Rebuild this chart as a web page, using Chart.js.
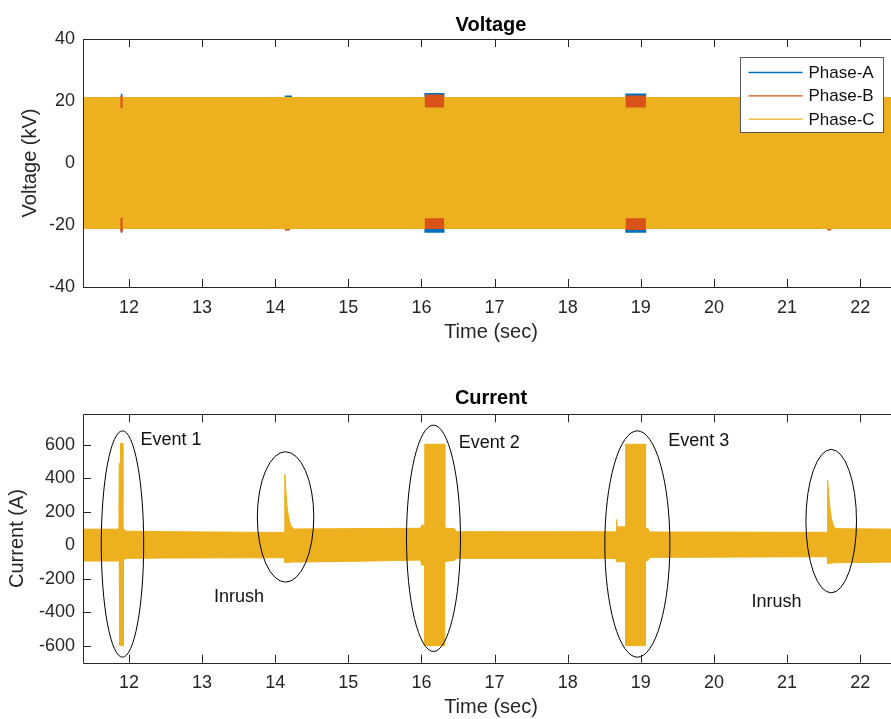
<!DOCTYPE html>
<html>
<head>
<meta charset="utf-8">
<script src="https://cdn.jsdelivr.net/npm/chart.js@4.4.1/dist/chart.umd.min.js"></script>
<style>
  html, body { margin: 0; padding: 0; background: #fff; overflow: hidden; width: 891px; height: 719px; }
  #voltage { position: absolute; left: 0; top: 0; }
  #current { position: absolute; left: 0; top: 357px; }
</style>
</head>
<body>
<canvas id="voltage" width="900" height="357"></canvas>
<canvas id="current" width="900" height="372"></canvas>
<script>
// axis ticks
const timeTicks = [12, 13, 14, 15, 16, 17, 18, 19, 20, 21, 22];
const voltTicks = [-40, -20, 0, 20, 40];
const currTicks = [-600, -400, -200, 0, 200, 400, 600];

// voltage envelopes (kV)
const phaseATime  = [11.37, 11.888, 11.888, 11.910, 11.910, 14.13, 14.13, 14.23, 14.23, 16.04, 16.04, 16.315, 16.315, 18.787, 18.787, 19.073, 19.073, 22.53];
const phaseAUpper = [21.3, 21.3, 22.3, 22.3, 21.3, 21.3, 21.8, 21.8, 21.3, 21.3, 22.6, 22.6, 21.3, 21.3, 22.4, 22.4, 21.3, 21.3];
const phaseALower = [-21.3, -21.3, -22.5, -22.5, -21.3, -21.3, -21.3, -21.3, -21.3, -21.3, -22.5, -22.5, -21.3, -21.3, -22.5, -22.5, -21.3, -21.3];

const phaseBTime  = [11.37, 11.880, 11.880, 11.916, 11.916, 14.13, 14.13, 14.20, 14.20, 16.045, 16.045, 16.309, 16.309, 18.792, 18.792, 19.068, 19.068, 21.55, 21.55, 21.60, 21.60, 22.53];
const phaseBUpper = [21.3, 21.3, 21.5, 21.5, 21.3, 21.3, 21.3, 21.3, 21.3, 21.3, 22.1, 22.1, 21.3, 21.3, 21.8, 21.8, 21.3, 21.3, 21.3, 21.3, 21.3, 21.3];
const phaseBLower = [-21.3, -21.3, -22.1, -22.1, -21.3, -21.3, -21.8, -21.8, -21.3, -21.3, -21.3, -21.3, -21.3, -21.3, -21.6, -21.6, -21.3, -21.3, -21.8, -21.8, -21.3, -21.3];

const phaseCTime  = [11.37, 11.883, 11.883, 11.913, 11.913, 16.045, 16.045, 16.309, 16.309, 18.792, 18.792, 19.068, 19.068, 22.53];
const phaseCUpper = [21.3, 21.3, 17.7, 17.7, 21.3, 21.3, 17.9, 17.9, 21.3, 21.3, 17.9, 17.9, 21.3, 21.3];
const phaseCLower = [-21.3, -21.3, -17.7, -17.7, -21.3, -21.3, -17.8, -17.8, -21.3, -21.3, -17.8, -17.8, -21.3, -21.3];

// current envelope (A)
const currTime  = [11.37, 11.862, 11.866, 11.874, 11.884, 11.884, 11.916, 11.916, 11.925, 11.925, 11.96, 12.5, 14.128, 14.131, 14.145, 14.160, 14.175, 14.20, 14.222, 14.26, 15.0, 15.99, 16.0, 16.045, 16.045, 16.318, 16.318, 16.45, 16.48, 18.66, 18.668, 18.675, 18.792, 18.792, 19.064, 19.064, 19.10, 19.12, 21.55, 21.554, 21.585, 21.605, 21.63, 21.66, 22.53];
const currUpper = [97, 97, 490, 490, 490, 610, 610, 110, 100, 100, 85, 82, 77, 426, 330, 240, 190, 135, 111, 98, 100, 102, 121, 121, 605, 605, 103, 100, 82, 81, 155, 111, 111, 605, 605, 103, 100, 80, 78, 390, 230, 160, 121, 100, 97];
const currLower = [-94, -94, -95, -600, -600, -600, -600, -600, -600, -85, -78, -76, -74, -102, -102, -102, -102, -102, -100, -100, -96, -88, -118, -118, -600, -600, -96, -90, -78, -78, -98, -98, -98, -600, -600, -95, -90, -72, -68, -108, -108, -106, -105, -104, -100];

// annotations on the current plot (data units)
const ringTime   = [11.911, 14.141, 16.164, 18.952, 21.603];
const ringAmp    = [8, 170, 42, 8, 145];
const ringHalfT  = [0.290, 0.386, 0.369, 0.445, 0.346];
const ringHalfA  = [677, 390, 677, 677, 429];
const noteText = ['Event 1', 'Inrush', 'Event 2', 'Event 3', 'Inrush'];
const noteTime = [12.156, 13.163, 16.510, 19.373, 20.514];
const noteAmp  = [630, -312, 612, 624, -337];

const BLUE = '#0072BD', ORANGE = '#D95319', YELLOW = '#EDB120', AXIS = '#262626';

Chart.defaults.font.family = '"Liberation Sans", Arial, sans-serif';
Chart.defaults.color = AXIS;

function band(label, time, upper, lower, color, order, edge) {
  return [
    { label: label, legendLabel: label, data: time.map((t, i) => ({x: t, y: upper[i]})),
      borderColor: color, backgroundColor: color, borderWidth: edge, pointRadius: 0, fill: '+1', order: order },
    { label: label + ' min', data: time.map((t, i) => ({x: t, y: lower[i]})),
      borderColor: color, backgroundColor: color, borderWidth: edge, pointRadius: 0, fill: false, order: order }
  ];
}

const matlabAxes = {
  id: 'matlabAxes',
  beforeDatasetsDraw(chart) {
    const {ctx, chartArea: a, scales: {x, y}} = chart;
    ctx.save();
    ctx.strokeStyle = AXIS;
    ctx.lineWidth = 1;
    ctx.beginPath();
    x.ticks.forEach(t => {
      const px = Math.round(x.getPixelForValue(t.value)) + 0.5;
      ctx.moveTo(px, a.bottom); ctx.lineTo(px, a.bottom - 8);
      ctx.moveTo(px, a.top); ctx.lineTo(px, a.top + 8);
    });
    y.ticks.forEach(t => {
      const py = Math.round(y.getPixelForValue(t.value)) + 0.5;
      ctx.moveTo(a.left, py); ctx.lineTo(a.left + 8, py);
    });
    ctx.stroke();
    ctx.restore();
  },
  afterDraw(chart, args, opts) {
    const {ctx, chartArea: a, scales: {x, y}} = chart;
    ctx.save();
    ctx.strokeStyle = AXIS;
    ctx.lineWidth = 1;
    const l = Math.round(a.left) + 0.5, t = Math.round(a.top) + 0.5, b = Math.round(a.bottom) + 0.5;
    ctx.beginPath();
    ctx.moveTo(a.right, t); ctx.lineTo(l, t); ctx.lineTo(l, b); ctx.lineTo(a.right, b);
    ctx.stroke();

    if (opts.rings) {
      ctx.strokeStyle = '#000';
      ringTime.forEach((tv, i) => {
        const cx = x.getPixelForValue(tv), cy = y.getPixelForValue(ringAmp[i]);
        const rx = Math.abs(x.getPixelForValue(tv + ringHalfT[i]) - cx);
        const ry = Math.abs(y.getPixelForValue(ringAmp[i] + ringHalfA[i]) - cy);
        ctx.beginPath();
        ctx.ellipse(cx, cy, rx, ry, 0, 0, Math.PI * 2);
        ctx.stroke();
      });
      ctx.fillStyle = '#111';
      ctx.font = '18px "Liberation Sans", Arial, sans-serif';
      ctx.textAlign = 'left';
      ctx.textBaseline = 'middle';
      noteText.forEach((s, i) => {
        ctx.fillText(s, x.getPixelForValue(noteTime[i]), y.getPixelForValue(noteAmp[i]));
      });
    }

    if (opts.legend) {
      const items = chart.data.datasets.filter(d => d.legendLabel);
      const bx = a.right - 158.5, by = a.top + 18.5, bw = 143, bh = 75;
      ctx.fillStyle = '#fff';
      ctx.fillRect(bx, by, bw, bh);
      ctx.strokeStyle = '#555';
      ctx.strokeRect(bx, by, bw, bh);
      ctx.font = '17px "Liberation Sans", Arial, sans-serif';
      ctx.textAlign = 'left';
      ctx.textBaseline = 'middle';
      items.forEach((d, i) => {
        const ry = by + 15 + i * 23.3;
        ctx.strokeStyle = d.borderColor;
        ctx.lineWidth = 1.3;
        ctx.beginPath();
        ctx.moveTo(bx + 8, ry); ctx.lineTo(bx + 62, ry);
        ctx.stroke();
        ctx.fillStyle = '#111';
        ctx.fillText(d.legendLabel, bx + 68, ry + 1);
      });
    }
    ctx.restore();
  }
};

function axesOptions(opt) {
  return {
    responsive: false,
    animation: false,
    layout: { padding: { left: 0, right: 1, top: 0, bottom: opt.bottomPad } },
    plugins: {
      legend: { display: false },
      tooltip: { enabled: false },
      title: { display: true, text: opt.title, fullSize: false, color: '#000',
               font: { size: 20, weight: 'bold' }, padding: opt.titlePad },
      matlabAxes: { legend: opt.legend, rings: opt.rings }
    },
    scales: {
      x: {
        type: 'linear', min: 11.371, max: 22.53,
        afterBuildTicks: s => { s.ticks = timeTicks.map(v => ({ value: v })); },
        afterFit: s => { s.height = 60; },
        grid: { display: false, drawTicks: false },
        border: { display: false },
        ticks: { padding: 10, font: { size: 18 }, color: AXIS, maxRotation: 0, autoSkip: false },
        title: { display: true, text: 'Time (sec)', font: { size: 20 }, color: AXIS, padding: { top: 0, bottom: 3 } }
      },
      y: {
        type: 'linear', min: opt.yMin, max: opt.yMax,
        afterBuildTicks: s => { s.ticks = opt.yTicks.map(v => ({ value: v })); },
        afterFit: s => { s.width = 83; },
        grid: { display: false, drawTicks: false },
        border: { display: false },
        ticks: { padding: 8, font: { size: 18 }, color: AXIS },
        title: { display: true, text: opt.yTitle, font: { size: 20 }, color: AXIS, padding: { top: opt.yTitlePad, bottom: 0 } }
      }
    }
  };
}

new Chart(document.getElementById('voltage'), {
  type: 'line',
  data: {
    datasets: [
      ...band('Phase-A', phaseATime, phaseAUpper, phaseALower, BLUE, 3, 0),
      ...band('Phase-B', phaseBTime, phaseBUpper, phaseBLower, ORANGE, 2, 0),
      ...band('Phase-C', phaseCTime, phaseCUpper, phaseCLower, YELLOW, 1, 0)
    ]
  },
  options: axesOptions({
    title: 'Voltage', titlePad: { top: 13, bottom: 2 }, bottomPad: 10,
    yMin: -40, yMax: 40, yTicks: voltTicks, yTitle: 'Voltage (kV)', yTitlePad: 18,
    legend: true, rings: false
  }),
  plugins: [matlabAxes]
});

new Chart(document.getElementById('current'), {
  type: 'line',
  data: {
    datasets: band('Current', currTime, currUpper, currLower, YELLOW, 1, 1)
  },
  options: axesOptions({
    title: 'Current', titlePad: { top: 29, bottom: 4.3 }, bottomPad: 6.3,
    yMin: -702, yMax: 784, yTicks: currTicks, yTitle: 'Current (A)', yTitlePad: 5.5,
    legend: false, rings: true
  }),
  plugins: [matlabAxes]
});
</script>
</body>
</html>
